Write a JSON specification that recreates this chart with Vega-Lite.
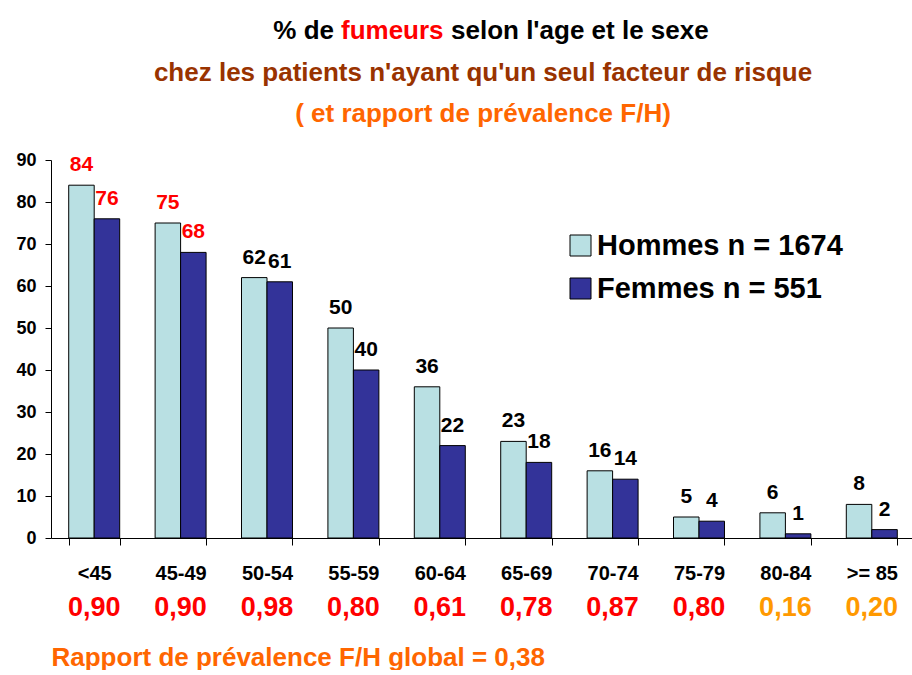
{
  "$schema": "https://vega.github.io/schema/vega-lite/v6.json",
  "padding": {"left": 15, "top": 18, "right": 0, "bottom": 0},
  "background": "white",
  "datasets": {
    "fumeurs": [
      {"age": "<45", "sexe": "Hommes", "pct": 84},
      {"age": "<45", "sexe": "Femmes", "pct": 76},
      {"age": "45-49", "sexe": "Hommes", "pct": 75},
      {"age": "45-49", "sexe": "Femmes", "pct": 68},
      {"age": "50-54", "sexe": "Hommes", "pct": 62},
      {"age": "50-54", "sexe": "Femmes", "pct": 61},
      {"age": "55-59", "sexe": "Hommes", "pct": 50},
      {"age": "55-59", "sexe": "Femmes", "pct": 40},
      {"age": "60-64", "sexe": "Hommes", "pct": 36},
      {"age": "60-64", "sexe": "Femmes", "pct": 22},
      {"age": "65-69", "sexe": "Hommes", "pct": 23},
      {"age": "65-69", "sexe": "Femmes", "pct": 18},
      {"age": "70-74", "sexe": "Hommes", "pct": 16},
      {"age": "70-74", "sexe": "Femmes", "pct": 14},
      {"age": "75-79", "sexe": "Hommes", "pct": 5},
      {"age": "75-79", "sexe": "Femmes", "pct": 4},
      {"age": "80-84", "sexe": "Hommes", "pct": 6},
      {"age": "80-84", "sexe": "Femmes", "pct": 1},
      {"age": ">= 85", "sexe": "Hommes", "pct": 8},
      {"age": ">= 85", "sexe": "Femmes", "pct": 2}
    ],
    "rapports": [
      {"age": "<45", "ratio": 0.90},
      {"age": "45-49", "ratio": 0.90},
      {"age": "50-54", "ratio": 0.98},
      {"age": "55-59", "ratio": 0.80},
      {"age": "60-64", "ratio": 0.61},
      {"age": "65-69", "ratio": 0.78},
      {"age": "70-74", "ratio": 0.87},
      {"age": "75-79", "ratio": 0.80},
      {"age": "80-84", "ratio": 0.16},
      {"age": ">= 85", "ratio": 0.20}
    ]
  },
  "config": {
    "locale": {"number": {"decimal": ",", "thousands": " ", "grouping": [3], "currency": ["", " €"]}},
    "view": {"stroke": null},
    "font": "Liberation Sans",
    "title": {"font": "Liberation Sans", "fontWeight": "bold", "fontSize": 26, "color": "black"},
    "axis": {"labelFont": "Liberation Sans", "titleFont": "Liberation Sans", "labelFontWeight": "bold", "labelColor": "black", "domainColor": "black", "tickColor": "black", "grid": false},
    "legend": {"labelFont": "Liberation Sans"}
  },
  "resolve": {"legend": {"color": "independent"}, "scale": {"color": "independent"}},
  "spacing": 15,
  "vconcat": [
    {
      "hconcat": [
        {"width": 283, "height": 1, "data": {"values": []}, "mark": "point",
         "title": {"text": "% de", "anchor": "end", "color": "black", "offset": 0}},
        {"width": 1, "height": 1, "data": {"values": []}, "mark": "point",
         "title": {"text": "fumeurs", "anchor": "start", "color": "#FF0000", "offset": 0}},
        {"width": 1, "height": 1, "data": {"values": []}, "mark": "point",
         "title": {"text": "selon l'age et le sexe", "anchor": "start", "color": "black", "offset": 0}}
      ],
      "spacing": 7
    },
    {
      "width": 864,
      "height": 378,
      "title": {
        "text": "chez les patients n'ayant qu'un seul facteur de risque",
        "subtitle": "( et rapport de prévalence F/H)",
        "color": "#993300",
        "subtitleColor": "#FF6600",
        "subtitleFont": "Liberation Sans",
        "subtitleFontWeight": "bold",
        "subtitleFontSize": 26,
        "subtitlePadding": 15,
        "anchor": "middle",
        "frame": "group",
        "offset": 24
      },
      "layer": [
        {
          "data": {"name": "fumeurs"},
          "mark": {"type": "bar", "stroke": "black", "strokeWidth": 1},
          "encoding": {
            "x": {
              "field": "age", "type": "nominal",
              "sort": ["<45", "45-49", "50-54", "55-59", "60-64", "65-69", "70-74", "75-79", "80-84", ">= 85"],
              "scale": {"paddingInner": 0.41, "paddingOuter": 0.205},
              "axis": {
                "title": "Rapport de prévalence F/H global = 0,38",
                "titleFontWeight": "bold", "titleFontSize": 26,
                "titleColor": "#FF6600", "titleAnchor": "start", "titleAlign": "left", "titlePadding": 61,
                "labelAngle": 0, "labelFontSize": 20, "labelPadding": 18,
                "tickBand": "extent", "tickSize": 7
              }
            },
            "xOffset": {"field": "sexe", "type": "nominal", "sort": ["Hommes", "Femmes"]},
            "y": {
              "field": "pct", "type": "quantitative",
              "scale": {"domain": [0, 90], "nice": false},
              "axis": {"title": null, "values": [0, 10, 20, 30, 40, 50, 60, 70, 80, 90], "labelFontSize": 18, "tickSize": 6, "labelPadding": 9}
            },
            "color": {
              "field": "sexe", "type": "nominal", "sort": ["Hommes", "Femmes"],
              "scale": {"domain": ["Hommes", "Femmes"], "range": ["#B9E0E3", "#333399"]},
              "legend": {
                "title": null, "orient": "none", "legendX": 515, "legendY": 71,
                "symbolType": "square", "symbolSize": 441, "symbolStrokeColor": "black", "symbolStrokeWidth": 1,
                "symbolOpacity": 1,
                "labelFont": "Liberation Sans", "labelFontWeight": "bold", "labelFontSize": 29,
                "labelColor": "black", "labelOffset": 2, "rowPadding": 13, "padding": 0, "labelLimit": 0,
                "labelExpr": "datum.label == 'Hommes' ? 'Hommes n = 1674' : 'Femmes n = 551'"
              }
            }
          }
        },
        {
          "data": {"name": "fumeurs"},
          "mark": {"type": "text", "baseline": "alphabetic", "dy": -14, "fontSize": 21, "fontWeight": "bold", "font": "Liberation Sans"},
          "encoding": {
            "x": {"field": "age", "type": "nominal", "sort": ["<45", "45-49", "50-54", "55-59", "60-64", "65-69", "70-74", "75-79", "80-84", ">= 85"]},
            "xOffset": {"field": "sexe", "type": "nominal", "sort": ["Hommes", "Femmes"]},
            "y": {"field": "pct", "type": "quantitative"},
            "text": {"field": "pct", "type": "quantitative"},
            "color": {
              "condition": {"test": "datum.age == '<45' || datum.age == '45-49'", "value": "#FF0000"},
              "value": "black"
            }
          }
        },
        {
          "data": {"name": "rapports"},
          "mark": {"type": "text", "baseline": "middle", "fontSize": 27, "fontWeight": "bold", "font": "Liberation Sans"},
          "encoding": {
            "x": {"field": "age", "type": "nominal", "sort": ["<45", "45-49", "50-54", "55-59", "60-64", "65-69", "70-74", "75-79", "80-84", ">= 85"]},
            "y": {"datum": -16.7},
            "text": {"field": "ratio", "type": "quantitative", "format": ".2f"},
            "color": {
              "condition": {"test": "datum.ratio < 0.5", "value": "#FF9900"},
              "value": "#FF0000"
            }
          }
        }
      ]
    }
  ]
}
